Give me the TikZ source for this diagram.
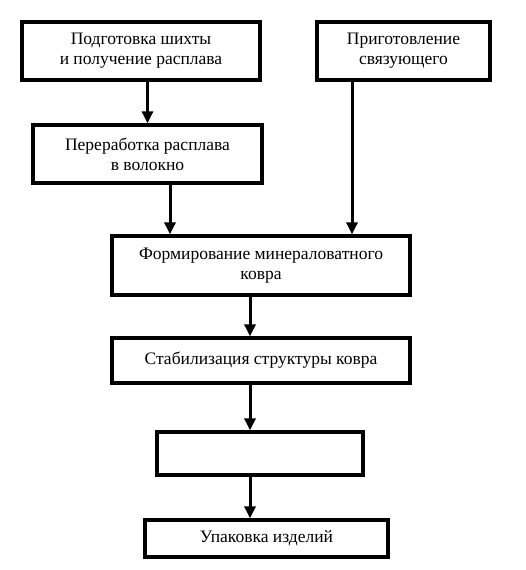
\documentclass[tikz,border=0pt]{standalone}
\usepackage{fontspec}
\setmainfont{Liberation Serif}
\usetikzlibrary{positioning, arrows.meta}

\begin{document}
\begin{tikzpicture}[x=1pt, y=-1pt, line width=3.3pt,
    block/.style={draw, rectangle, align=center, inner sep=0pt, font=\fontsize{17.5}{20}\selectfont},
    flow/.style={line width=3pt, -{Triangle[width=11pt,length=12pt]}}]
    \useasboundingbox (0,0) rectangle (525,570);

    \node[block, minimum width=238pt, minimum height=58pt] (melt) at (141,51) {Подготовка шихты\\и получение расплава};
    \node[block, minimum width=173pt, minimum height=58pt] (binder) at (403.5,51) {Приготовление\\связующего};
    \node[block, minimum width=229pt, minimum height=58pt] (fibre) at (147.5,154) {Переработка расплава\\в волокно};
    \node[block, minimum width=298pt, minimum height=59pt] (carpet) at (261,265.5) {Формирование минераловатного\\ковра};
    \node[block, minimum width=298pt, minimum height=45pt] (stab) at (261,360.5) {Стабилизация структуры ковра};
    \node[block, minimum width=206pt, minimum height=43pt] (blank) at (260,453.5) {};
    \node[block, minimum width=243pt, minimum height=37pt] (pack) at (266.5,538.5) {Упаковка изделий};

    \draw[flow] (melt.south -| fibre) -- (fibre.north);
    \draw[flow] ([xshift=22.5pt]fibre.south) -- ([xshift=22.5pt]fibre.south |- carpet.north);
    \draw[flow] ([xshift=-51.5pt]binder.south) -- ([xshift=-51.5pt]binder.south |- carpet.north);
    \draw[flow] ([xshift=-11pt]carpet.south) -- ([xshift=-11pt]carpet.south |- stab.north);
    \draw[flow] ([xshift=-11pt]stab.south) -- ([xshift=-11pt]stab.south |- blank.north);
    \draw[flow] ([xshift=-10pt]blank.south) -- ([xshift=-10pt]blank.south |- pack.north);
\end{tikzpicture}
\end{document}
